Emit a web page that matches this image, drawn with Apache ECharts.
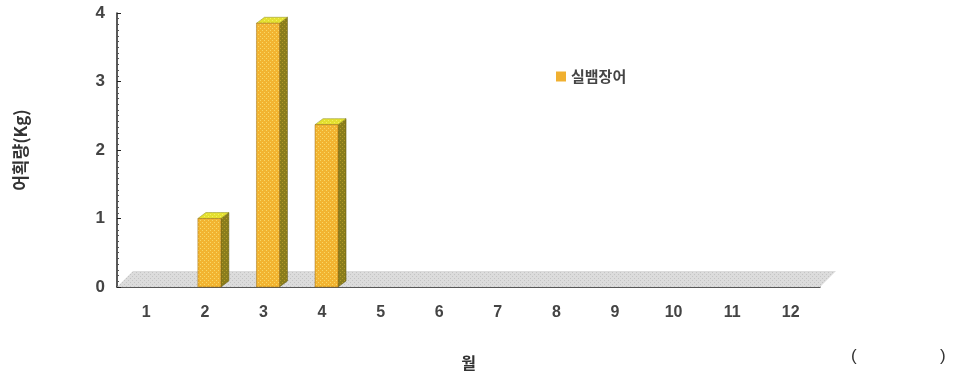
<!DOCTYPE html>
<html><head><meta charset="utf-8">
<script src="https://cdn.jsdelivr.net/npm/echarts@6/dist/echarts.min.js"></script>
<style>html,body{margin:0;padding:0;background:#fff}#c{width:954px;height:376px}</style>
</head><body><div id="c"></div>
<script>
const categories = ['1','2','3','4','5','6','7','8','9','10','11','12'];
const catchKg = [0, 1.0, 3.85, 2.37, 0, 0, 0, 0, 0, 0, 0, 0];
const yTicks = [0, 1, 2, 3, 4];
const seriesName = '실뱀장어';

function makePattern(base, dot) {
  const c = document.createElement('canvas');
  c.width = 4; c.height = 4;
  const g = c.getContext('2d');
  g.fillStyle = base; g.fillRect(0, 0, 4, 4);
  g.fillStyle = dot; g.fillRect(0, 0, 1, 1); g.fillRect(2, 2, 1, 1);
  return c;
}
const frontPat = {image: makePattern('#f2b431', '#f8d867'), repeat: 'repeat'};
const sidePat = {image: makePattern('#8a7d1c', '#b29a2a'), repeat: 'repeat'};
const topPat = {image: makePattern('#e4e030', '#f4f060'), repeat: 'repeat'};
const floorPat = {image: makePattern('#dcdcdc', '#c4c4c4'), repeat: 'repeat'};

const font = '"Noto Sans CJK KR", "Noto Sans", sans-serif';
const numFont = '"Liberation Sans", Arial, sans-serif';
const chart = echarts.init(document.getElementById('c'));
chart.setOption({
  animation: false,
  grid: {left: 117, right: 134, top: 13, bottom: 88},
  legend: {
    data: [seriesName], left: 551, top: 64, itemWidth: 10, itemHeight: 10, itemGap: 9,
    icon: 'rect',
    textStyle: {fontFamily: font, fontSize: 15, fontWeight: 'bold', color: '#444'}
  },
  xAxis: {
    type: 'category', data: categories, boundaryGap: true,
    name: '월', nameLocation: 'middle', nameGap: 68,
    nameTextStyle: {fontFamily: font, fontSize: 16, fontWeight: 'bold', color: '#333'},
    axisLine: {lineStyle: {color: '#222', width: 1.5}},
    axisTick: {inside: true, length: 4, lineStyle: {color: '#222'}},
    axisLabel: {margin: 18, fontFamily: numFont, fontSize: 16, fontWeight: 'bold', color: '#444'}
  },
  yAxis: {
    type: 'value', min: 0, max: 4, interval: 1,
    name: '어획량(Kg)', nameLocation: 'middle', nameGap: 88,
    nameTextStyle: {fontFamily: font, fontSize: 17, fontWeight: 'bold', color: '#333'},
    axisLine: {show: true, lineStyle: {color: '#222', width: 1.5}},
    axisTick: {show: true, inside: true, length: 4, lineStyle: {color: '#222'}},
    minorTick: {show: true, splitNumber: 12, length: 2, lineStyle: {color: '#555'}},
    splitLine: {show: false},
    axisLabel: {margin: 12, fontFamily: numFont, fontSize: 17, fontWeight: 'bold', color: '#444',
      padding: [6, 0, 0, 0],
      formatter: v => yTicks.includes(v) ? String(v) : ''}
  },
  graphic: [
    {type: 'text', left: 851, top: 348, style: {text: '(', font: '17px ' + numFont, fill: '#333'}},
    {type: 'text', left: 940, top: 348, style: {text: ')', font: '17px ' + numFont, fill: '#333'}}
  ],
  series: [
    {
      type: 'custom', name: 'floor', silent: true, z: 1,
      data: [[0, 0]],
      renderItem: function (params, api) {
        const cs = params.coordSys;
        const y0 = cs.y + cs.height;
        const d = 16;
        return {
          type: 'polygon',
          shape: {points: [[cs.x, y0], [cs.x + cs.width, y0], [cs.x + cs.width + d, y0 - d], [cs.x + d, y0 - d]]},
          style: {fill: floorPat, stroke: null}
        };
      }
    },
    {
      type: 'custom', name: seriesName, z: 2,
      itemStyle: {color: '#f0b030'},
      encode: {x: 0, y: 1},
      data: catchKg.map((v, i) => [i, v]),
      renderItem: function (params, api) {
        const v = api.value(1);
        if (!v) return {type: 'group', children: []};
        const top = api.coord([api.value(0), v]);
        const base = api.coord([api.value(0), 0]);
        const xl = top[0] - 7, xr = top[0] + 16, dx = 8, dy = 6;
        const yt = top[1], yb = base[1];
        return {
          type: 'group',
          children: [
            {type: 'polygon', shape: {points: [[xr, yb], [xr, yt], [xr + dx, yt - dy], [xr + dx, yb - dy]]},
              style: {fill: sidePat, stroke: '#5c5410', lineWidth: 0.5}},
            {type: 'polygon', shape: {points: [[xl, yt], [xr, yt], [xr + dx, yt - dy], [xl + dx, yt - dy]]},
              style: {fill: topPat, stroke: '#8a8a20', lineWidth: 0.5}},
            {type: 'rect', shape: {x: xl, y: yt, width: xr - xl, height: yb - yt},
              style: {fill: frontPat, stroke: '#9a6a10', lineWidth: 0.5}}
          ]
        };
      }
    }
  ]
});
</script></body></html>
